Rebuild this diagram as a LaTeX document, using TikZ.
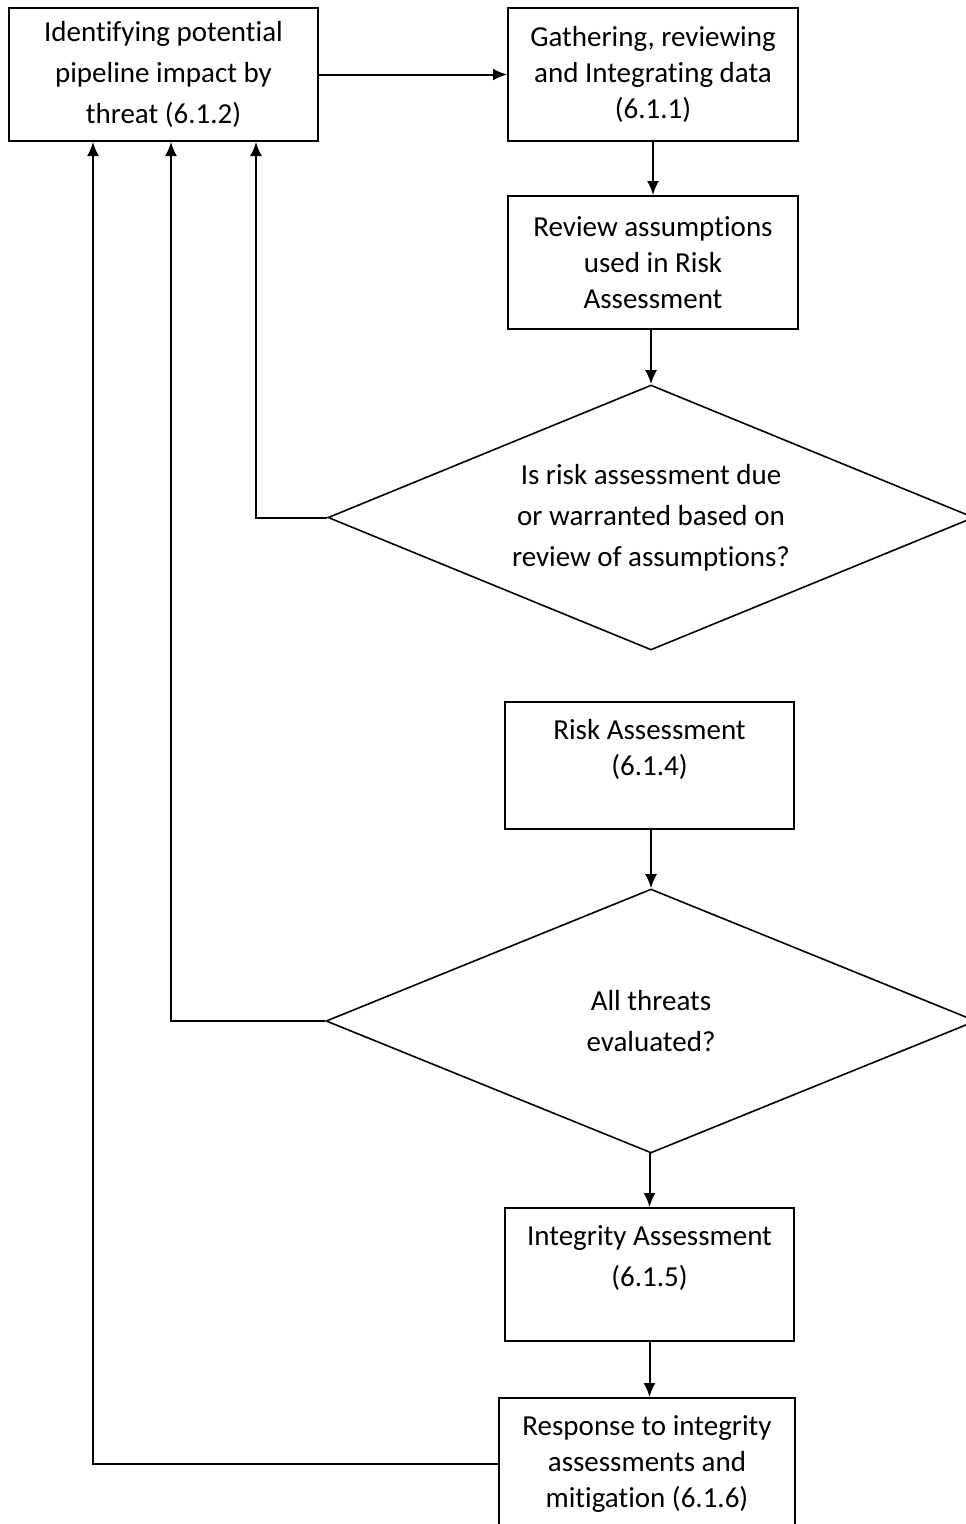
\documentclass[tikz,border=0pt]{standalone}
\usepackage{fontspec}
\setmainfont{Carlito}[RawFeature={-liga;-clig;-calt}]
\usetikzlibrary{arrows.meta,shapes.geometric}

\begin{document}
\begin{tikzpicture}[x=1pt,y=-1pt,
	box/.style={rectangle,draw,line width=2pt,align=center,inner sep=0pt,
		font=\fontsize{29}{36}\selectfont},
	loose/.style={font=\fontsize{29}{41}\selectfont},
	decision/.style={diamond,draw,line width=1.6pt,align=center,inner sep=0pt,
		aspect=2.44,font=\fontsize{29}{41}\selectfont},
	flow/.style={arrows={-{Latex[length=14pt,width=12pt]}},line width=2pt}]
		\clip (0,0) rectangle (966,1524);

		\node[box,loose,minimum width=309pt,minimum height=133pt] (identify)
			at (163.5,74.5) {Identifying potential\\pipeline impact by\\threat (6.1.2)};
		\node[box,minimum width=290pt,minimum height=133pt] (gather)
			at (653,74.5) {Gathering, reviewing\\and Integrating data\\(6.1.1)};
		\node[box,minimum width=290pt,minimum height=133pt] (review)
			at (653,262.5) {Review assumptions\\used in Risk\\Assessment};

		\node[decision,minimum width=646pt,minimum height=265pt] (riskdue)
			at (651,517.5) {Is risk assessment due\\or warranted based on\\review of assumptions?};

		\node[box,minimum width=289pt,minimum height=127pt,text depth=36pt] (riskass)
			at (649.5,765.5) {Risk Assessment\\(6.1.4)};

		\node[decision,minimum width=650pt,minimum height=264pt] (allthreats)
			at (651,1021) {All threats\\evaluated?};

		\node[box,loose,minimum width=289pt,minimum height=133pt,text depth=36pt] (integrity)
			at (649.5,1274.5) {Integrity Assessment\\(6.1.5)};
		\node[box,minimum width=296pt,minimum height=132pt] (response)
			at (647,1464) {Response to integrity\\assessments and\\mitigation (6.1.6)};

		\draw[flow] (identify) -- (gather);
		\draw[flow] (gather) -- (review);
		\draw[flow] (riskdue.north |- review.south) -- (riskdue.north);
		\draw[flow] (allthreats.north |- riskass.south) -- (allthreats.north);
		\draw[flow] (allthreats.south) -- (allthreats.south -| integrity.north) -- (integrity.north);
		\draw[flow] (integrity.south) -- (integrity.south |- response.north);

		\draw[flow] (riskdue.west) -| ([xshift=92.5pt]identify.south);
		\draw[flow] (allthreats.west) -| ([xshift=7.5pt]identify.south);
		\draw[flow] (response.west) -| ([xshift=-70.5pt]identify.south);
	\end{tikzpicture}
\end{document}
